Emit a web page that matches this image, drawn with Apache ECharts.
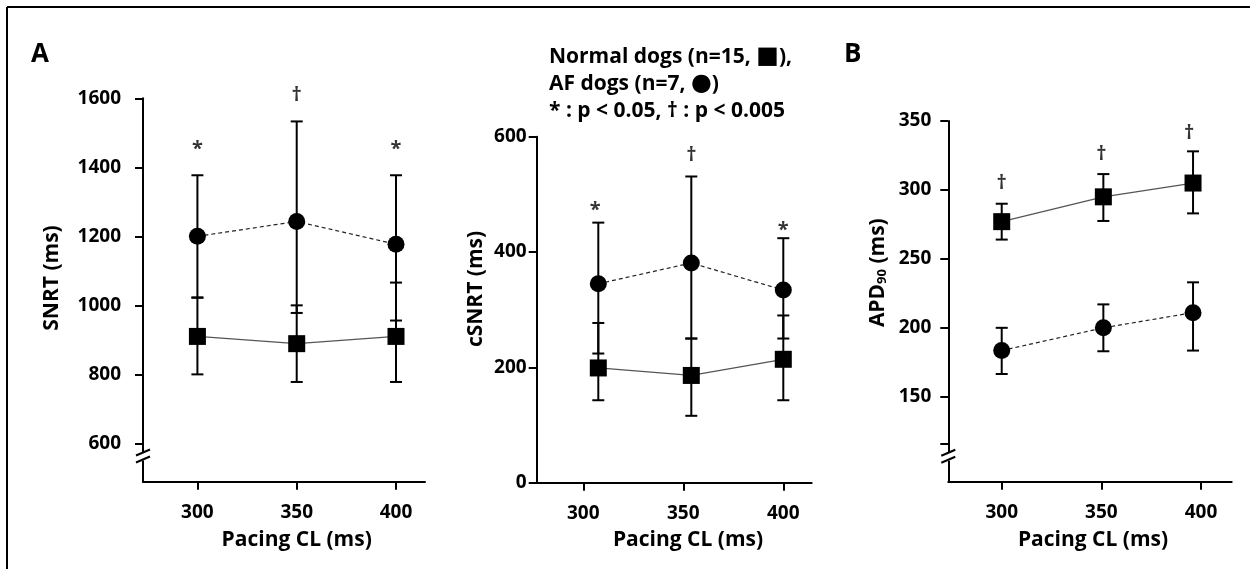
<!DOCTYPE html>
<html><head><meta charset="utf-8">
<script src="https://cdn.jsdelivr.net/npm/echarts@6/dist/echarts.min.js"></script>
<style>html,body{margin:0;padding:0;background:#fff}#c{width:1250px;height:569px}</style>
</head><body><div id="c"></div>
<script>
// ---------- data ----------
const pacingTicks = [300, 350, 400];

// Panel A (left): SNRT
const snrtX = [300, 350, 400];
const snrtNormal = [910, 889, 910];
const snrtNormalLow = [800, 778, 778];
const snrtNormalHigh = [1022, 1000, 1066];
const snrtAF = [1200, 1243, 1177];
const snrtAFLow = [1023, 978, 956];
const snrtAFHigh = [1377, 1533, 1377];
const snrtSig = ['*', '†', '*'];
const snrtSigX = [300, 350, 400];
const snrtSigY = [1452, 1610, 1452];
const snrtTicks = [600, 800, 1000, 1200, 1400, 1600];

// Panel A (right): cSNRT
const csnrtX = [307.5, 354, 400];
const csnrtNormal = [199, 186, 214];
const csnrtNormalLow = [143, 116, 143];
const csnrtNormalHigh = [277, 250, 290];
const csnrtAF = [345, 381, 334];
const csnrtAFLow = [224, 250, 250];
const csnrtAFHigh = [451, 531, 424];
const csnrtSig = ['*', '†', '*'];
const csnrtSigX = [306, 354, 400];
const csnrtSigY = [473, 567, 438];
const csnrtTicks = [0, 200, 400, 600];

// Panel B: APD90
const apdX = [300, 351, 396];
const apdNormal = [277, 295, 305];
const apdNormalLow = [264, 277.5, 283];
const apdNormalHigh = [290, 311.5, 328];
const apdAF = [183.5, 200, 211];
const apdAFLow = [166.5, 183, 183.5];
const apdAFHigh = [200, 217, 233];
const apdSig = ['†', '†', '†'];
const apdSigX = [300, 350, 394];
const apdSigY = [305, 325.5, 341];
const apdLabelTicks = [150, 200, 250, 300, 350];
const apdTickMarks = [116, 150, 200, 250, 300, 350];

const xTitle = 'Pacing CL (ms)';
const yTitles = ['SNRT (ms)', 'cSNRT (ms)', 'APD{sub|90} (ms)'];
const legendLines = ['Normal dogs (n=15, {sq|■}),', 'AF dogs (n=7, {ci|●})', '* : p < 0.05, † : p < 0.005'];

// ---------- helpers ----------
const FONT = '"Open Sans", Lato, sans-serif';
function zip2(xs, ys) { return xs.map((x, i) => [x, ys[i]]); }
function zip3(xs, a, b) { return xs.map((x, i) => [x, a[i], b[i]]); }

function errRender(params, api) {
  const x = api.value(0), lo = api.value(1), hi = api.value(2);
  const p1 = api.coord([x, lo]), p2 = api.coord([x, hi]);
  const w = 6;
  const style = { stroke: '#000', lineWidth: 2 };
  return { type: 'group', children: [
    { type: 'line', shape: { x1: p1[0], y1: p1[1], x2: p2[0], y2: p2[1] }, style },
    { type: 'line', shape: { x1: p1[0] - w, y1: p1[1], x2: p1[0] + w, y2: p1[1] }, style },
    { type: 'line', shape: { x1: p2[0] - w, y1: p2[1], x2: p2[0] + w, y2: p2[1] }, style }
  ]};
}

function xAxisCfg(idx, min, max) {
  return {
    type: 'value', gridIndex: idx, min, max,
    axisLine: { lineStyle: { color: '#000', width: 2 } },
    axisTick: { show: true, length: 8, lineStyle: { color: '#000', width: 2 }, customValues: pacingTicks },
    axisLabel: { fontFamily: FONT, fontWeight: 'bold', fontSize: 19, color: '#000', margin: 21, customValues: pacingTicks,
      formatter: v => String(v) },
    splitLine: { show: false }
  };
}
function yAxisCfg(idx, min, max, labelVals, tickVals, margin) {
  return {
    type: 'value', gridIndex: idx, min, max,
    axisLine: { show: true, lineStyle: { color: '#000', width: 2 } },
    axisTick: { show: true, length: 8, lineStyle: { color: '#000', width: 2 }, customValues: tickVals },
    axisLabel: { fontFamily: FONT, fontWeight: 'bold', fontSize: 19, color: '#000', margin, customValues: labelVals,
      formatter: v => String(v) },
    splitLine: { show: false }
  };
}

function panelSeries(idx, xs, nm, nLo, nHi, af, aLo, aHi, sig, sigX, sigY) {
  return [
    { type: 'custom', xAxisIndex: idx, yAxisIndex: idx, renderItem: errRender, data: zip3(xs, nLo, nHi), z: 2, clip: false },
    { type: 'custom', xAxisIndex: idx, yAxisIndex: idx, renderItem: errRender, data: zip3(xs, aLo, aHi), z: 2, clip: false },
    { type: 'line', xAxisIndex: idx, yAxisIndex: idx, data: zip2(xs, nm), symbol: 'rect', symbolSize: 17,
      itemStyle: { color: '#000' }, lineStyle: { color: '#555', width: 1.2, type: 'solid' }, z: 3, animation: false },
    { type: 'line', xAxisIndex: idx, yAxisIndex: idx, data: zip2(xs, af), symbol: 'circle', symbolSize: 17,
      itemStyle: { color: '#000' }, lineStyle: { color: '#222', width: 1.2, type: [4, 3] }, z: 3, animation: false },
    { type: 'scatter', xAxisIndex: idx, yAxisIndex: idx, symbolSize: 0, clip: false,
      data: sigX.map((x, i) => ({ value: [x, sigY[i]], label: { formatter: sig[i] } })),
      label: { show: true, position: 'inside', fontFamily: FONT, fontWeight: 'bold', fontSize: 20, color: '#000' }, z: 4 }
  ];
}

const chart = echarts.init(document.getElementById('c'), null, { renderer: 'canvas' });
const option = {
  backgroundColor: '#fff',
  animation: false,
  grid: [
    { left: 143, top: 98.3, width: 282, height: 383.4 },
    { left: 536.7, top: 136.7, width: 275, height: 346 },
    { left: 948.3, top: 121, width: 283.4, height: 360.7 }
  ],
  xAxis: [
    xAxisCfg(0, 272.6, 414.6),
    xAxisCfg(1, 276.7, 414.2),
    xAxisCfg(2, 273.2, 415.4)
  ],
  yAxis: [
    yAxisCfg(0, 489, 1600, snrtTicks, snrtTicks, 22),
    yAxisCfg(1, 0, 600, csnrtTicks, csnrtTicks, 10),
    yAxisCfg(2, 88.4, 350, apdLabelTicks, apdTickMarks, 17)
  ],
  series: [
    ...panelSeries(0, snrtX, snrtNormal, snrtNormalLow, snrtNormalHigh, snrtAF, snrtAFLow, snrtAFHigh, snrtSig, snrtSigX, snrtSigY),
    ...panelSeries(1, csnrtX, csnrtNormal, csnrtNormalLow, csnrtNormalHigh, csnrtAF, csnrtAFLow, csnrtAFHigh, csnrtSig, csnrtSigX, csnrtSigY),
    ...panelSeries(2, apdX, apdNormal, apdNormalLow, apdNormalHigh, apdAF, apdAFLow, apdAFHigh, apdSig, apdSigX, apdSigY)
  ]
};
chart.setOption(option);

// decorations: frame, panel letters, legend, axis titles, axis breaks
function breakMarks(gridIdx, breakVal) {
  const y = chart.convertToPixel({ yAxisIndex: gridIdx }, breakVal);
  const x = option.grid[gridIdx].left;
  const st = { stroke: '#000', lineWidth: 2 };
  return [
    { type: 'rect', shape: { x: x - 4, y: y - 4, width: 8, height: 8 }, style: { fill: '#fff' }, z: 10 },
    { type: 'line', shape: { x1: x - 7, y1: y - 1, x2: x + 7, y2: y - 7 }, style: st, z: 11 },
    { type: 'line', shape: { x1: x - 7, y1: y + 6, x2: x + 7, y2: y }, style: st, z: 11 }
  ];
}
const symRich = {
  sq: { fontFamily: '"DejaVu Sans"', fontSize: 24, fontWeight: 'bold', color: '#000' },
  ci: { fontFamily: '"DejaVu Sans"', fontSize: 24, fontWeight: 'bold', color: '#000' }
};
const subRich = { sub: { fontFamily: FONT, fontWeight: 'bold', fontSize: 13, color: '#000', verticalAlign: 'bottom', padding: [9, 0, 0, 0] } };
const titleStyle = (t) => ({ text: t, fontFamily: FONT, fontWeight: 'bold', fontSize: 21, fill: '#000',
  align: 'center', verticalAlign: 'middle', rich: subRich });
const xTitlePos = [[296.7, 540], [688, 540], [1093, 540]];
const yTitlePos = [[51.7, 278], [476, 289], [878, 272.7]];
const graphics = [
  { type: 'line', shape: { x1: 7, y1: 7, x2: 7, y2: 569 }, style: { stroke: '#000', lineWidth: 2 } },
  { type: 'line', shape: { x1: 7, y1: 7, x2: 1250, y2: 7 }, style: { stroke: '#000', lineWidth: 2 } },
  { type: 'text', x: 31, y: 55, style: { text: 'A', fontFamily: FONT, fontWeight: 'bold', fontSize: 26, fill: '#000', verticalAlign: 'middle' } },
  { type: 'text', x: 844, y: 55, style: { text: 'B', fontFamily: FONT, fontWeight: 'bold', fontSize: 26, fill: '#000', verticalAlign: 'middle' } },
  ...legendLines.map((t, i) => ({ type: 'text', x: 549, y: 57 + i * 27,
    style: { text: t, fontFamily: FONT, fontWeight: 'bold', fontSize: 21, fill: '#000', verticalAlign: 'middle', rich: symRich } })),
  ...xTitlePos.map(p => ({ type: 'text', x: p[0], y: p[1], style: titleStyle(xTitle) })),
  ...yTitlePos.map((p, i) => ({ type: 'text', x: p[0], y: p[1], rotation: Math.PI / 2, style: titleStyle(yTitles[i]) })),
  ...breakMarks(0, 562),
  ...breakMarks(2, 106.5)
];
chart.setOption({ graphic: graphics });
</script></body></html>
